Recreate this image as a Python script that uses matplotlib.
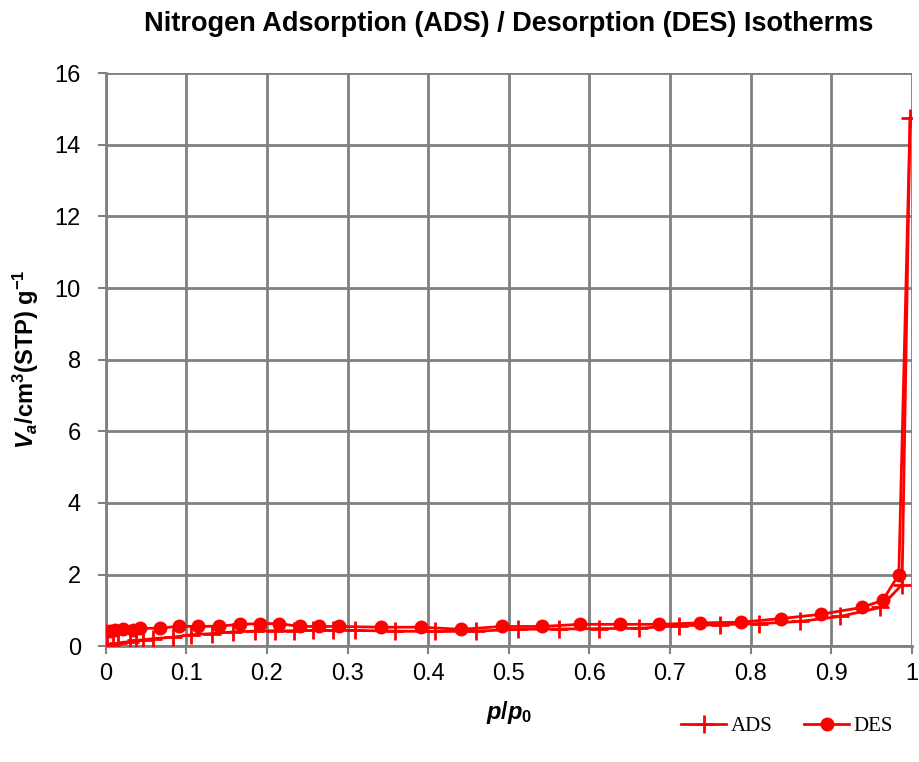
import matplotlib
matplotlib.use('Agg')
import matplotlib.pyplot as plt
import numpy as np

# adsorption branch (p/p0, volume)
ads_p = [0.001, 0.009, 0.015, 0.030, 0.038, 0.046, 0.059, 0.083, 0.106, 0.132,
         0.158, 0.185, 0.210, 0.234, 0.257, 0.282, 0.309, 0.359, 0.409, 0.459,
         0.512, 0.562, 0.612, 0.661, 0.711, 0.762, 0.811, 0.861, 0.911, 0.961,
         0.988, 0.998]
ads_v = [0.0, 0.05, 0.09, 0.13, 0.16, 0.18, 0.21, 0.25, 0.32, 0.35,
         0.40, 0.42, 0.43, 0.43, 0.44, 0.44, 0.44, 0.42, 0.41, 0.42,
         0.47, 0.48, 0.49, 0.50, 0.57, 0.60, 0.63, 0.69, 0.83, 1.08,
         1.72, 14.75]

# desorption branch
des_p = [0.998, 0.984, 0.964, 0.938, 0.887, 0.838, 0.788, 0.737, 0.687, 0.638,
         0.588, 0.541, 0.491, 0.441, 0.391, 0.341, 0.289, 0.265, 0.241, 0.215,
         0.191, 0.166, 0.141, 0.115, 0.091, 0.067, 0.042, 0.034, 0.021, 0.011,
         0.005, 0.0]
des_v = [14.75, 2.0, 1.28, 1.08, 0.89, 0.77, 0.67, 0.65, 0.61, 0.61,
         0.61, 0.55, 0.55, 0.47, 0.53, 0.53, 0.55, 0.55, 0.55, 0.63,
         0.63, 0.61, 0.56, 0.55, 0.56, 0.50, 0.50, 0.45, 0.48, 0.45,
         0.43, 0.42]

xticks = [0, 0.1, 0.2, 0.3, 0.4, 0.5, 0.6, 0.7, 0.8, 0.9, 1]
xticklabels = ['0', '0.1', '0.2', '0.3', '0.4', '0.5', '0.6', '0.7', '0.8', '0.9', '1']
yticks = [0, 2, 4, 6, 8, 10, 12, 14, 16]

plt.rcParams['font.family'] = ['Liberation Sans', 'DejaVu Sans']
plt.rcParams['mathtext.fontset'] = 'custom'
plt.rcParams['mathtext.it'] = 'Liberation Sans:italic:bold'
plt.rcParams['mathtext.rm'] = 'Liberation Sans:bold'
plt.rcParams['mathtext.bf'] = 'Liberation Sans:bold'

fig = plt.figure(figsize=(9.2, 7.62), dpi=100)
ax = fig.add_axes([0.115, 0.152, 0.876, 0.752])

red = '#ff0000'
ax.plot(ads_p, ads_v, color=red, lw=2, marker='+', ms=13, mew=2, label='ADS', zorder=3)
ax.plot(des_p, des_v, color=red, lw=2, marker='o', ms=9, label='DES',
        markevery=list(range(1, len(des_p))), zorder=3)

ax.set_xlim(0, 1)
ax.set_ylim(0, 16)
ax.set_xticks(xticks)
ax.set_xticklabels(xticklabels)
ax.set_yticks(yticks)
ax.grid(True, color='#808080', lw=2)
ax.set_axisbelow(True)
for s in ['top', 'right']:
    ax.spines[s].set_visible(False)
for s in ['left', 'bottom']:
    ax.spines[s].set_color('#808080')
    ax.spines[s].set_linewidth(2)
ax.tick_params(axis='both', colors='#808080', labelcolor='black', length=6, width=1.5,
               labelsize=17)
ax.tick_params(axis='y', pad=12)
ax.tick_params(axis='x', pad=6)

ax.set_title('Nitrogen Adsorption (ADS) / Desorption (DES) Isotherms',
             fontsize=19.5, fontweight='bold', pad=30)
ax.set_xlabel(r'$p$/$p_0$', fontsize=17, fontweight='bold', labelpad=10)
ax.set_ylabel(r'$V_a$/cm$^3$(STP) g$^{-1}$', fontsize=17, fontweight='bold', labelpad=10)

leg = ax.legend(loc='upper right', bbox_to_anchor=(1.0, -0.09), ncol=2, frameon=False,
                prop={'family': 'Liberation Serif', 'size': 15}, handlelength=2.2,
                columnspacing=1.5, handletextpad=0.2)

fig.savefig('out.png', dpi=100)
